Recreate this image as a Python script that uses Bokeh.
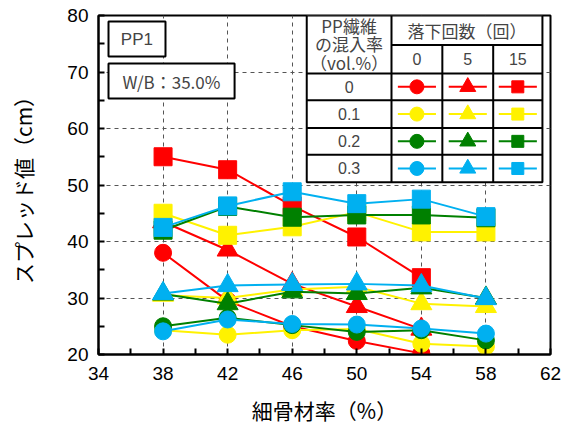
from bokeh.plotting import figure
from bokeh.models import FixedTicker, Label, Range1d
from bokeh.embed import file_html
from bokeh.resources import INLINE
from bokeh.core.properties import value

# ---------------- data ----------------
fine_agg = [38, 42, 46, 50, 54, 58]          # 細骨材率 (%)
fine_agg_red = [38, 42, 46, 50, 54]

red_drop0 = [38.0, 29.5, 25.0, 22.4, 20.2]
red_drop5 = [43.5, 38.5, 32.5, 28.5, 24.5]
red_drop15 = [55.0, 52.7, 46.3, 40.8, 33.6]
yellow_drop0 = [24.3, 23.5, 24.3, 24.5, 21.9, 21.4]
yellow_drop5 = [30.5, 30.0, 31.5, 32.0, 29.0, 28.5]
yellow_drop15 = [45.0, 41.1, 42.6, 45.2, 41.7, 41.7]
green_drop0 = [25.0, 26.5, 25.2, 24.0, 24.3, 22.5]
green_drop5 = [30.7, 29.0, 31.1, 30.8, 31.8, 30.0]
green_drop15 = [42.0, 46.2, 44.3, 44.7, 44.7, 44.2]
blue_drop0 = [24.1, 26.2, 25.4, 25.3, 24.6, 23.7]
blue_drop5 = [30.8, 32.2, 32.4, 32.5, 32.2, 29.9]
blue_drop15 = [42.5, 46.3, 48.8, 46.7, 47.5, 44.4]

fiber_labels = ["0", "0.1", "0.2", "0.3"]
drop_labels = ["0", "5", "15"]
x_ticks = [34, 38, 42, 46, 50, 54, 58, 62]
y_ticks = [20, 30, 40, 50, 60, 70, 80]

RED, YELLOW, GREEN, BLUE = "#FF0000", "#FFF200", "#008000", "#00B0F0"
colors = [RED, YELLOW, GREEN, BLUE]
markers = ["circle", "triangle", "square"]
msizes = {"circle": 17, "triangle": 21, "square": 18}
lsizes = {"circle": 14, "triangle": 16, "square": 12}

series = [
    (RED, fine_agg_red, [red_drop0, red_drop5, red_drop15]),
    (YELLOW, fine_agg, [yellow_drop0, yellow_drop5, yellow_drop15]),
    (GREEN, fine_agg, [green_drop0, green_drop5, green_drop15]),
    (BLUE, fine_agg, [blue_drop0, blue_drop5, blue_drop15]),
]

JP = "Noto Sans CJK JP"
AR = "Liberation Sans"

p = figure(width=574, height=427, output_backend="svg", toolbar_location=None,
           x_range=Range1d(34, 62), y_range=Range1d(20, 80),
           min_border_left=98, min_border_right=24, min_border_top=15,
           min_border_bottom=73)
p.background_fill_color = "white"
p.border_fill_color = "white"
p.outline_line_color = "black"
p.outline_line_width = 2

# axes
p.xaxis.ticker = FixedTicker(ticks=x_ticks, minor_ticks=[36, 40, 44, 48, 52, 56, 60])
p.yaxis.ticker = FixedTicker(ticks=y_ticks, minor_ticks=[25, 35, 45, 55, 65, 75])
for ax in (p.xaxis[0], p.yaxis[0]):
    ax.axis_line_width = 2
    ax.axis_line_color = "black"
    ax.major_tick_in = 6
    ax.major_tick_out = 0
    ax.minor_tick_in = 6
    ax.minor_tick_out = 0
    ax.major_tick_line_width = 2
    ax.minor_tick_line_width = 2
    ax.major_label_text_font = AR
    ax.major_label_text_font_size = "19px"
    ax.major_label_text_color = "black"
    ax.axis_label_text_font = JP
    ax.axis_label_text_font_size = "21px"
    ax.axis_label_text_font_style = "normal"
    ax.axis_label_text_color = "black"
p.xaxis.axis_label = "細骨材率（%）"
p.yaxis.axis_label = "スプレッド値（cm）"
p.xaxis.major_label_standoff = 12
p.yaxis.major_label_standoff = 10
p.xaxis.axis_label_standoff = 12
p.yaxis.axis_label_standoff = 26

p.xgrid.ticker = FixedTicker(ticks=[38, 42, 46, 50, 54, 58])
p.ygrid.ticker = FixedTicker(ticks=[30, 40, 50, 60, 70])
for g in (p.xgrid[0], p.ygrid[0]):
    g.grid_line_color = "#555555"
    g.grid_line_dash = "4 4"
    g.grid_line_width = 1

# data series
for col, xs, ys_list in series:
    for mk, ys in zip(markers, ys_list):
        p.line(xs, ys, line_color=col, line_width=2)
        p.scatter(xs, ys, marker=mk, size=msizes[mk], fill_color=col,
                  line_color=col, line_width=1)

# info boxes
p.quad(left=[34.62, 34.62], right=[38.15, 42.43], top=[78.94, 71.5],
       bottom=[72.74, 65.3], fill_color="white", line_color="black", line_width=2)
p.add_layout(Label(x=36.38, y=75.84, text="PP1", text_font=AR, text_font_size="17px",
                   text_align="center", text_baseline="middle"))
p.add_layout(Label(x=38.52, y=68.4, text="W/B：35.0%", text_font=JP, text_font_size="17px",
                   text_align="center", text_baseline="middle"))

# legend table (layout in data units)
tx = [46.9, 52.15, 55.3, 58.45, 61.5]
ty = [80.0, 74.8, 69.75, 65.0, 60.1, 55.35, 50.5]
p.quad(left=[tx[0]], right=[tx[-1]], top=[ty[0]], bottom=[ty[-1]],
       fill_color="white", line_color="black", line_width=2)
seg_x0, seg_x1, seg_y0, seg_y1 = [], [], [], []
for xv in tx[1:-1]:
    seg_x0.append(xv); seg_x1.append(xv)
    seg_y0.append(ty[1] if xv != tx[1] else ty[0]); seg_y1.append(ty[-1])
seg_x0.append(tx[1]); seg_x1.append(tx[-1]); seg_y0.append(ty[1]); seg_y1.append(ty[1])
for yv in ty[2:-1]:
    seg_x0.append(tx[0]); seg_x1.append(tx[-1]); seg_y0.append(yv); seg_y1.append(yv)
p.segment(seg_x0, seg_y0, seg_x1, seg_y1, line_color="black", line_width=2)

cx0 = (tx[0] + tx[1]) / 2
for txt, yv in zip(["PP繊維", "の混入率", "（vol.%）"], [78.3, 75.1, 71.7]):
    p.add_layout(Label(x=cx0, y=yv, text=txt, text_font=JP, text_font_size="17px",
                       text_align="center", text_baseline="middle"))
p.add_layout(Label(x=(tx[1] + tx[-1]) / 2, y=(ty[0] + ty[1]) / 2, text="落下回数（回）",
                   text_font=JP, text_font_size="17px", text_align="center",
                   text_baseline="middle"))
col_centers = [(tx[i] + tx[i + 1]) / 2 for i in range(1, 4)]
for lab, cx in zip(drop_labels, col_centers):
    p.add_layout(Label(x=cx, y=(ty[1] + ty[2]) / 2, text=lab, text_font=AR,
                       text_font_size="16px", text_align="center", text_baseline="middle"))
half = 1.18
for r, (lab, col) in enumerate(zip(fiber_labels, colors)):
    ym = (ty[r + 2] + ty[r + 3]) / 2
    p.add_layout(Label(x=cx0, y=ym, text=lab, text_font=AR, text_font_size="16px",
                       text_align="center", text_baseline="middle"))
    for mk, cx in zip(markers, col_centers):
        p.line([cx - half, cx + half], [ym, ym], line_color=col, line_width=2)
        p.scatter([cx], [ym], marker=mk, size=lsizes[mk], fill_color=col,
                  line_color=col)

open("out.html", "w").write(file_html(p, INLINE))
